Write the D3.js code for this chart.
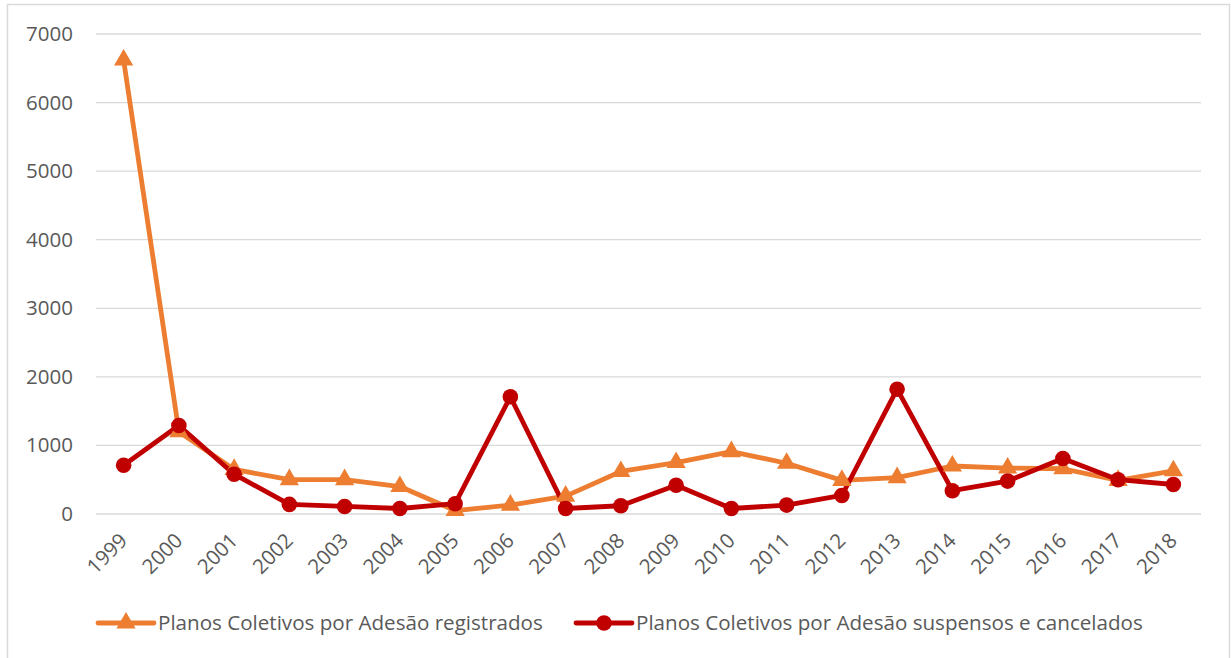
<!DOCTYPE html>
<html>
<head>
<meta charset="utf-8">
<script src="https://cdn.jsdelivr.net/npm/d3@7"></script>
<style>
  body { margin: 0; background: #fff; }
  svg text { font-family: "Open Sans", sans-serif; fill: #595959; }
</style>
</head>
<body>
<div id="chart"></div>
<script>
const years = ['1999','2000','2001','2002','2003','2004','2005','2006','2007','2008',
  '2009','2010','2011','2012','2013','2014','2015','2016','2017','2018'];
const registrados = [6620, 1200, 650, 500, 500, 400, 50, 130, 260, 620,
  750, 910, 740, 490, 530, 700, 670, 660, 490, 630];
const suspensos = [710, 1290, 580, 140, 110, 80, 150, 1710, 80, 120,
  420, 80, 130, 270, 1820, 340, 480, 810, 500, 430];
const yTicks = [0, 1000, 2000, 3000, 4000, 5000, 6000, 7000];
const seriesNames = ['Planos Coletivos por Adesão registrados', 'Planos Coletivos por Adesão suspensos e cancelados'];
const colors = ['#ED7D31', '#C00000'];

const W = 1231, H = 658;
const margin = { top: 34, right: 30, bottom: 144, left: 96 };
const width = 1201 - margin.left, height = 514 - margin.top;

const svg = d3.select('#chart').append('svg')
  .attr('width', W).attr('height', H);

// chart frame
svg.append('rect')
  .attr('x', 7.5).attr('y', 4.5)
  .attr('width', 1222).attr('height', 665)
  .attr('fill', 'none').attr('stroke', '#d9d9d9').attr('stroke-width', 1.5);

const g = svg.append('g').attr('transform', `translate(${margin.left},${margin.top})`);

const x = d3.scaleBand().domain(years).range([0, width]);
const y = d3.scaleLinear().domain([0, 7000]).range([height, 0]);

// gridlines
g.append('g').selectAll('line').data(yTicks).join('line')
  .attr('x1', 0).attr('x2', width)
  .attr('y1', d => y(d)).attr('y2', d => y(d))
  .attr('stroke', '#d9d9d9').attr('stroke-width', 1.3);

// y axis labels
const yAxis = d3.axisLeft(y).tickValues(yTicks).tickFormat(d3.format('d')).tickSize(0).tickPadding(23);
g.append('g').call(yAxis)
  .call(a => a.select('.domain').remove())
  .selectAll('text').style('font-size', '20.5px').attr('fill', '#595959');

// x axis labels
const xAxis = d3.axisBottom(x).tickSize(0).tickPadding(0);
g.append('g').attr('transform', `translate(0,${height})`).call(xAxis)
  .call(a => a.select('.domain').remove())
  .selectAll('text')
  .style('font-size', '20.5px').attr('fill', '#595959')
  .attr('text-anchor', 'end')
  .attr('y', 0).attr('dy', 0).attr('dx', 0)
  .attr('transform', 'translate(5,28) rotate(-45)');

const data = [registrados, suspensos];
const line = d3.line().x((d, i) => x(years[i]) + x.bandwidth() / 2).y(d => y(d));

data.forEach((vals, si) => {
  g.append('path').datum(vals)
    .attr('d', line)
    .attr('fill', 'none').attr('stroke', colors[si])
    .attr('stroke-width', 4.8).attr('stroke-linejoin', 'round');
});

const tri = d3.symbol().type(d3.symbolTriangle).size(160);
g.append('g').selectAll('path').data(registrados).join('path')
  .attr('d', tri)
  .attr('transform', (d, i) => `translate(${x(years[i]) + x.bandwidth() / 2},${y(d)})`)
  .attr('fill', colors[0]);

g.append('g').selectAll('circle').data(suspensos).join('circle')
  .attr('cx', (d, i) => x(years[i]) + x.bandwidth() / 2)
  .attr('cy', d => y(d))
  .attr('r', 7.8)
  .attr('fill', colors[1]);

// legend
const legendItems = [
  { name: seriesNames[0], color: colors[0], marker: 'tri', x: 98 },
  { name: seriesNames[1], color: colors[1], marker: 'circ', x: 576 }
];
const lg = svg.append('g').attr('transform', 'translate(0,623)');
legendItems.forEach(item => {
  const it = lg.append('g').attr('transform', `translate(${item.x},0)`);
  it.append('line').attr('x1', 0).attr('x2', 56).attr('y1', 0).attr('y2', 0)
    .attr('stroke', item.color).attr('stroke-width', 4.8).attr('stroke-linecap', 'round');
  if (item.marker === 'tri') {
    it.append('path').attr('d', tri).attr('transform', 'translate(28,0)').attr('fill', item.color);
  } else {
    it.append('circle').attr('cx', 28).attr('cy', 0).attr('r', 7.8).attr('fill', item.color);
  }
  it.append('text').attr('x', 60).attr('y', 0).attr('dy', '0.36em')
    .style('font-size', '20.6px')
    .text(item.name);
});
</script>
</body>
</html>
